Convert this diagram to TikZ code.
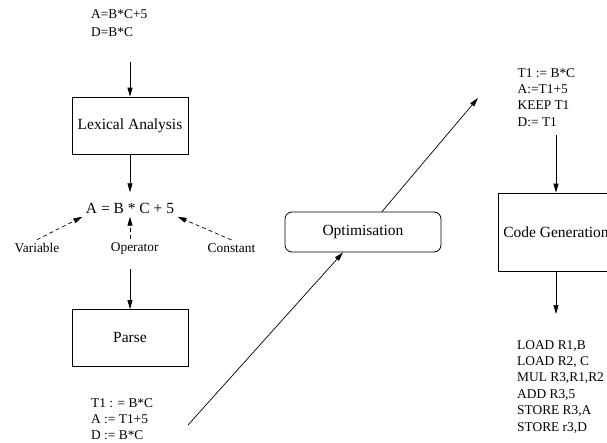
\documentclass[tikz,border=0pt]{standalone}
\usepackage{fontspec}
\setmainfont{Liberation Serif}
\usetikzlibrary{arrows.meta}

\newcommand{\smalltxt}{\fontsize{13.4}{16.4}\selectfont}
\newcommand{\bigtxt}{\fontsize{15.5}{18}\selectfont}

\tikzset{
  stage/.style={draw, line width=0.8pt, minimum width=116pt, minimum height=57pt, font=\bigtxt},
  code/.style={anchor=north west, inner sep=0pt, align=left, font=\smalltxt},
  arr/.style={-{Triangle[length=9pt,width=5pt]}, line width=0.7pt},
  hint/.style={arr, dash pattern=on 4pt off 3pt}
}

\begin{document}
\begin{tikzpicture}[x=1pt,y=-1pt]
\useasboundingbox (0,0) rectangle (607,443);

\node[code] (src) at (91,9.5) {A=B*C+5\\[1.6pt]D=B*C};

\node[stage] (lex) at (130,125.5) {Lexical Analysis};

\node[font=\bigtxt] (expr) at (130,208) {A = B * C + 5};

\node[font=\smalltxt] (var) at (37,248) {Variable};
\node[font=\smalltxt] (op) at (134.7,248) {Operator};
\node[font=\smalltxt] (const) at (231.5,248) {Constant};

\node[stage] (parse) at (130,338) {Parse};

\node[code] (tac) at (91,398) {T1 : = B*C\\A := T1+5\\D := B*C};

\node[stage, rounded corners=7pt, minimum width=156pt, minimum height=40pt] (opt) at (363,232) {Optimisation};

\node[code] (opttac) at (517.5,68) {T1 := B*C\\A:=T1+5\\KEEP T1\\D:= T1};

\node[stage, minimum height=78pt] (codegen) at (556,232) {Code Generation};

\node[code] (asm) at (517,340) {LOAD R1,B\\LOAD R2, C\\MUL R3,R1,R2\\ADD R3,5\\STORE R3,A\\STORE r3,D};

\coordinate (tacout) at (188,425);
\coordinate (opttip) at (478,98);

% left column
\draw [arr, shorten <=25pt] (src.south -| lex.north) -- (lex.north);
\draw [arr, shorten >=7pt] (lex) -- (expr);
\draw [hint] (var.north) -- (expr.south west);
\draw [hint] (op.north -| expr.south) -- (expr.south);
\draw [hint] (const.north) -- (expr.south east);
\draw [arr, shorten <=12pt] (op.south -| parse.north) -- (parse.north);

% to and from the optimiser
\draw [arr] (tacout) -- ([xshift=-20pt]opt.south);
\draw [arr] ([xshift=19pt]opt.north) -- (opttip);

% right column
\draw [arr, shorten <=8pt] (opttac.south -| codegen.north) -- (codegen.north);
\draw [arr, shorten >=26pt] (codegen.south) -- (codegen.south |- asm.north);
\end{tikzpicture}
\end{document}
